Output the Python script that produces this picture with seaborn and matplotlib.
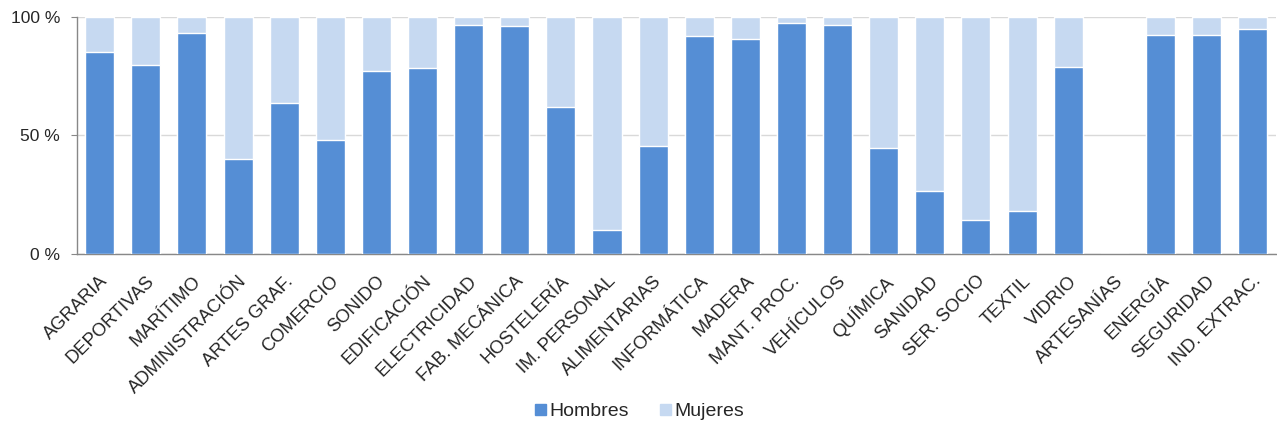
import matplotlib
matplotlib.use("Agg")
import matplotlib.pyplot as plt
import matplotlib.patches as mpatches
import seaborn as sns
import pandas as pd

# Data (share of men / women per professional family, %)
categorias = ["AGRARIA", "DEPORTIVAS", "MARÍTIMO", "ADMINISTRACIÓN", "ARTES GRAF.",
              "COMERCIO", "SONIDO", "EDIFICACIÓN", "ELECTRICIDAD", "FAB. MECÁNICA",
              "HOSTELERÍA", "IM. PERSONAL", "ALIMENTARIAS", "INFORMÁTICA", "MADERA",
              "MANT. PROC.", "VEHÍCULOS", "QUÍMICA", "SANIDAD", "SER. SOCIO",
              "TEXTIL", "VIDRIO", "ARTESANÍAS", "ENERGÍA", "SEGURIDAD", "IND. EXTRAC."]
hombres = [85.1, 79.6, 93.1, 40.1, 63.7, 48.1, 77.1, 78.3, 96.6, 96.3,
           61.9, 10.0, 45.6, 92.0, 90.7, 97.6, 96.8, 44.9, 26.4, 14.1,
           17.9, 78.9, 0.0, 92.3, 92.5, 94.8]
mujeres = [14.9, 20.4, 6.9, 59.9, 36.3, 51.9, 22.9, 21.7, 3.4, 3.7,
           38.1, 90.0, 54.4, 8.0, 9.3, 2.4, 3.2, 55.1, 73.6, 85.9,
           82.1, 21.1, 0.0, 7.7, 7.5, 5.2]
yticks = [0, 50, 100]
ytick_labels = ["0 %", "50 %", "100 %"]

col_h = "#558ED5"
col_m = "#C6D9F1"

df = pd.DataFrame({"cat": categorias, "h": hombres, "m": mujeres})
df["total"] = df["h"] + df["m"]

sns.set_style("white")
plt.rcParams["font.family"] = ["Liberation Sans", "DejaVu Sans"]

fig, ax = plt.subplots(figsize=(12.77, 4.26), dpi=100)
fig.subplots_adjust(left=0.06, right=0.999, top=0.96, bottom=0.404)

# light bar = total (100 %), dark bar = hombres drawn over it
sns.barplot(data=df, x="cat", y="total", color=col_m, width=0.63,
            saturation=1, ax=ax, zorder=2)
sns.barplot(data=df, x="cat", y="h", color=col_h, width=0.63,
            saturation=1, ax=ax, zorder=3)

ax.set_ylim(0, 100)
ax.set_xlim(-0.5, len(categorias) - 0.5)
ax.set_yticks(yticks)
ax.set_yticklabels(ytick_labels, fontsize=12.5)
ax.set_xlabel("")
ax.set_ylabel("")
ax.yaxis.grid(True, color="#D9D9D9", linewidth=1, zorder=0)
ax.set_axisbelow(True)

ax.tick_params(axis="y", left=True, length=4, color="#888888", pad=8)
ax.tick_params(axis="x", bottom=False, pad=10)
plt.setp(ax.get_xticklabels(), rotation=45, ha="right", rotation_mode="anchor",
         fontsize=13.2)

for s in ["top", "right"]:
    ax.spines[s].set_visible(False)
for s in ["left", "bottom"]:
    ax.spines[s].set_color("#888888")
    ax.spines[s].set_linewidth(1)

handles = [mpatches.Patch(color=col_h, label="Hombres"),
           mpatches.Patch(color=col_m, label="Mujeres")]
fig.legend(handles=handles, loc="center", bbox_to_anchor=(0.501, 0.033), ncol=2,
           frameon=False, fontsize=14, handlelength=0.55, handleheight=0.55,
           handletextpad=0.2, columnspacing=1.6)

fig.savefig("out.png", dpi=100)
